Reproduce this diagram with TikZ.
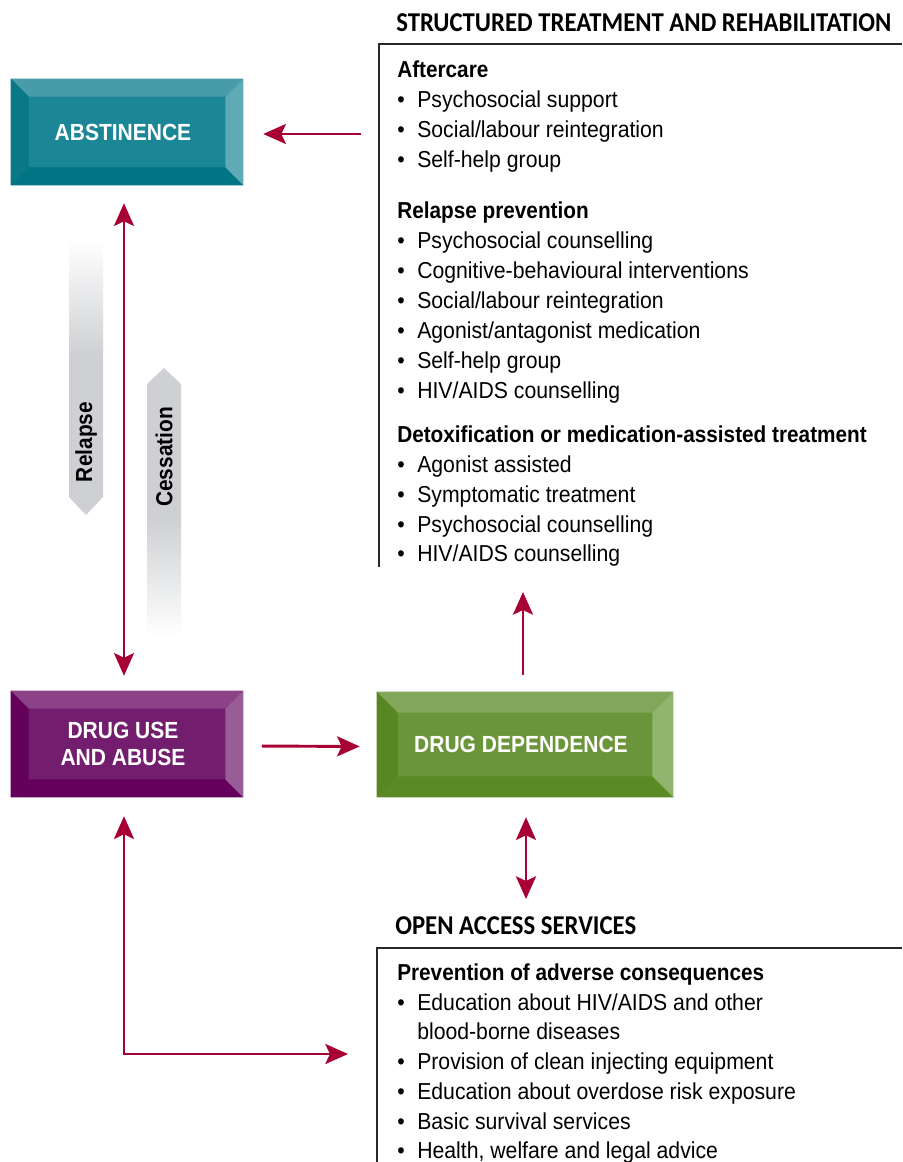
\documentclass[tikz,border=0pt]{standalone}
\usepackage{fontspec}
\setmainfont{Liberation Sans}[FakeStretch=0.92, BoldFeatures={FakeStretch=0.9}]
\newfontfamily\capfont{Carlito}[FakeStretch=0.91]
\usetikzlibrary{arrows.meta,calc,backgrounds}
\definecolor{crim}{RGB}{168,0,52}
\definecolor{agray}{RGB}{206,208,211}
\definecolor{tealT}{RGB}{72,155,168}
\definecolor{tealL}{RGB}{10,120,134}
\definecolor{tealB}{RGB}{0,117,133}
\definecolor{tealR}{RGB}{95,170,181}
\definecolor{tealI}{RGB}{27,134,150}
\definecolor{purT}{RGB}{139,66,135}
\definecolor{purL}{RGB}{98,0,90}
\definecolor{purB}{RGB}{100,0,92}
\definecolor{purR}{RGB}{152,92,150}
\definecolor{purI}{RGB}{115,29,110}
\definecolor{grnT}{RGB}{130,167,90}
\definecolor{grnL}{RGB}{87,134,35}
\definecolor{grnB}{RGB}{91,137,38}
\definecolor{grnR}{RGB}{145,180,110}
\definecolor{grnI}{RGB}{107,149,58}
\definecolor{linegray}{RGB}{40,40,40}
\pgfdeclareverticalshading{relshade}{100bp}{color(0bp)=(agray); color(25bp)=(agray); color(54bp)=(agray); color(75bp)=(white); color(100bp)=(white)}
\pgfdeclareverticalshading{cesshade}{100bp}{color(0bp)=(white); color(25bp)=(white); color(47bp)=(agray); color(75bp)=(agray); color(100bp)=(agray)}
\newcommand\bevelbox[7]{%
\begin{pgfonlayer}{background}
\fill[#7] (#1.north west) rectangle (#1.south east);
\fill[#3] (#1.north west) -- (#1.north east) -- ($(#1.north east)+(-#2,#2)$) -- ($(#1.north west)+(#2,#2)$) -- cycle;
\fill[#4] (#1.north west) -- ($(#1.north west)+(#2,#2)$) -- ($(#1.south west)+(#2,-#2)$) -- (#1.south west) -- cycle;
\fill[#5] (#1.south west) -- ($(#1.south west)+(#2,-#2)$) -- ($(#1.south east)+(-#2,-#2)$) -- (#1.south east) -- cycle;
\fill[#6] (#1.north east) -- (#1.south east) -- ($(#1.south east)+(-#2,-#2)$) -- ($(#1.north east)+(-#2,#2)$) -- cycle;
\end{pgfonlayer}}
\tikzset{
  boxlabel/.style={font=\fontsize{17.5pt}{20.25pt}\selectfont\bfseries, text=white, align=center, inner sep=0pt},
  bodyline/.style={font=\fontsize{17.3pt}{22pt}\selectfont, anchor=base west, inner sep=0pt},
  headline/.style={font=\fontsize{17.3pt}{22pt}\selectfont\bfseries, anchor=base west, inner sep=0pt},
  capline/.style={font=\capfont\fontsize{20.4pt}{24pt}\selectfont\bfseries, anchor=base west, inner sep=0pt},
  sidelabel/.style={font=\fontsize{17.4pt}{20pt}\selectfont\bfseries, rotate=90, inner sep=0pt},
  redline/.style={draw=crim, line width=2.2pt},
  onehead/.style={redline, -{Stealth[length=17pt,width=15pt,inset=3.5pt]}},
  twohead/.style={redline, {Stealth[length=17pt,width=15pt,inset=3.5pt]}-{Stealth[length=17pt,width=15pt,inset=3.5pt]}},
  frameline/.style={draw=linegray, line width=1pt}
}
\newcommand\bul[1]{\makebox[15pt][l]{\textbullet}#1}
\newcommand\lft[1]{#1\hspace*{6pt}}
\begin{document}
\begin{tikzpicture}[x=0.75pt,y=-0.75pt]
\begin{pgfonlayer}{background}
\fill[white] (0,0) rectangle (902,1162);
\end{pgfonlayer}
\useasboundingbox (0,0) rectangle (902,1162);

% bevelled boxes
\node[boxlabel, minimum width=174pt, minimum height=79.5pt] (abs) at (127,132) {\lft{ABSTINENCE}};
\bevelbox{abs}{18}{tealT}{tealL}{tealB}{tealR}{tealI}
\node[boxlabel, minimum width=174pt, minimum height=79.5pt] (use) at (127,744) {\lft{DRUG USE}\\\lft{AND ABUSE}};
\bevelbox{use}{18}{purT}{purL}{purB}{purR}{purI}
\node[boxlabel, minimum width=222pt, minimum height=78.75pt] (dep) at (525,744.5) {\lft{DRUG DEPENDENCE}};
\bevelbox{dep}{21}{grnT}{grnL}{grnB}{grnR}{grnI}

% grey relapse / cessation arrows
\shade[shading=relshade] (69,240) -- (103,240) -- (103,497) -- (86,515) -- (69,497) -- cycle;
\node[sidelabel] (relapse) at (86,442) {Relapse};
\shade[shading=cesshade] (164,368) -- (181,384) -- (181,637) -- (147,637) -- (147,384) -- cycle;
\node[sidelabel] (cess) at (164,457) {Cessation};

% structured treatment frame
\coordinate (stnw) at (379,44);
\coordinate (stne) at (902,44);
\coordinate (stsw) at (379,567);
\draw[frameline] (stsw) -- (stnw) -- (stne);
\node[capline] (sthead) at (396,32) {STRUCTURED TREATMENT AND REHABILITATION};
\node[headline] (h1) at (397,78) {Aftercare};
\node[bodyline] (a1) at (397,108) {\bul{Psychosocial support}};
\node[bodyline] (a2) at (397,138) {\bul{Social/labour reintegration}};
\node[bodyline] (a3) at (397,167.5) {\bul{Self-help group}};
\node[headline] (h2) at (397,219) {Relapse prevention};
\node[bodyline] (r1) at (397,249) {\bul{Psychosocial counselling}};
\node[bodyline] (r2) at (397,279) {\bul{Cognitive-behavioural interventions}};
\node[bodyline] (r3) at (397,309) {\bul{Social/labour reintegration}};
\node[bodyline] (r4) at (397,338.5) {\bul{Agonist/antagonist medication}};
\node[bodyline] (r5) at (397,368) {\bul{Self-help group}};
\node[bodyline] (r6) at (397,398) {\bul{HIV/AIDS counselling}};
\node[headline] (h3) at (397,442) {Detoxification or medication-assisted treatment};
\node[bodyline] (d1) at (397,472) {\bul{Agonist assisted}};
\node[bodyline] (d2) at (397,502) {\bul{Symptomatic treatment}};
\node[bodyline] (d3) at (397,532) {\bul{Psychosocial counselling}};
\node[bodyline] (d4) at (397,561.5) {\bul{HIV/AIDS counselling}};

% open access frame
\coordinate (oanw) at (377,948);
\coordinate (oane) at (902,948);
\coordinate (oasw) at (377,1170);
\draw[frameline] (oasw) -- (oanw) -- (oane);
\node[capline] (oahead) at (395,934) {OPEN ACCESS SERVICES};
\node[headline] (h4) at (397,980) {Prevention of adverse consequences};
\node[bodyline] (o1) at (397,1010) {\bul{Education about HIV/AIDS and other}};
\node[bodyline] (o1b) at (397,1039.5) {\hspace*{15pt}blood-borne diseases};
\node[bodyline] (o2) at (397,1069) {\bul{Provision of clean injecting equipment}};
\node[bodyline] (o3) at (397,1099) {\bul{Education about overdose risk exposure}};
\node[bodyline] (o4) at (397,1129) {\bul{Basic survival services}};
\node[bodyline] (o5) at (397,1158.5) {\bul{Health, welfare and legal advice}};

% red connectors
\coordinate (aftin) at (361,134);
\draw[onehead, shorten >=15pt] (aftin) -- (abs.east |- aftin);
\draw[twohead, shorten <=13.5pt, shorten >=11.25pt] ([xshift=-2.25pt]abs.south) -- ([xshift=-2.25pt]use.north);
\draw[onehead, shorten <=14pt, shorten >=12.75pt] ([yshift=-1.5pt]use.east) -- ([yshift=-1.5pt]dep.west);
\coordinate (sttip) at (523,567);
\draw[onehead, shorten <=12.75pt, shorten >=18.75pt] (dep.north -| sttip) -- (sttip);
\coordinate (oatop) at (526,917);
\draw[twohead, shorten <=15pt, shorten >=13.5pt] (dep.south -| oatop) -- (oatop);
\coordinate (oaleft) at (377,1054);
\draw[twohead, shorten <=14.25pt, shorten >=21.75pt] ([xshift=-2.25pt]use.south) |- (oaleft);
\end{tikzpicture}
\end{document}
